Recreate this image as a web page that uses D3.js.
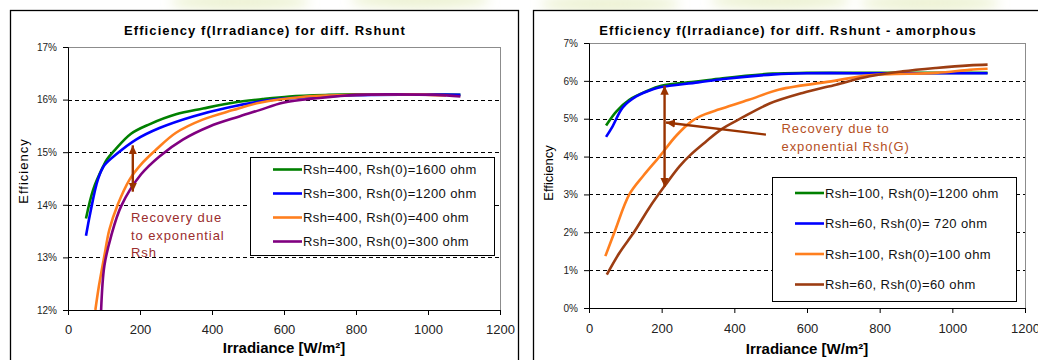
<!DOCTYPE html>
<html>
<head>
<meta charset="utf-8">
<script src="https://cdn.jsdelivr.net/npm/d3@7"></script>
<style>
  body { margin: 0; background: #fff; }
  svg { display: block; font-family: Arial, 'Liberation Sans', sans-serif; }
</style>
</head>
<body>
<svg id="chart" width="1038" height="360"></svg>
<script>
// ---- shared ticks ----
const irrTicks = [0, 200, 400, 600, 800, 1000, 1200];
const leftPctTicks = [12, 13, 14, 15, 16, 17];
const rightPctTicks = [0, 1, 2, 3, 4, 5, 6, 7];

// ---- left panel: crystalline module, efficiency [%] vs irradiance [W/m2] ----
const leftNames = ['Rsh=400, Rsh(0)=1600 ohm', 'Rsh=300, Rsh(0)=1200 ohm', 'Rsh=400, Rsh(0)=400 ohm', 'Rsh=300, Rsh(0)=300 ohm'];

const leftGreenX = [50, 70, 97, 108, 130, 175, 226, 300, 375, 458, 540, 615, 725, 800, 900, 1000, 1090];
const leftGreenY = [13.74, 14.29, 14.72, 14.86, 15.04, 15.35, 15.53, 15.72, 15.83, 15.94, 16.01, 16.06, 16.09, 16.10, 16.10, 16.10, 16.09];

const leftBlueX = [50, 62, 83, 101, 134, 189, 254, 347, 439, 560, 700, 850, 1000, 1090];
const leftBlueY = [13.41, 13.85, 14.48, 14.75, 14.96, 15.24, 15.46, 15.68, 15.84, 15.99, 16.06, 16.09, 16.10, 16.09];

const leftOrangeX = [76, 86, 101, 115, 138, 171, 203, 245, 300, 374, 458, 532, 650, 800, 950, 1050];
const leftOrangeY = [12.0, 12.46, 13.03, 13.53, 14.0, 14.48, 14.77, 15.05, 15.37, 15.62, 15.80, 15.94, 16.05, 16.09, 16.10, 16.08];

const leftPurpleX = [92, 101, 120, 148, 203, 254, 319, 393, 476, 532, 597, 699, 800, 900, 1020, 1090];
const leftPurpleY = [12.0, 12.84, 13.41, 13.98, 14.58, 14.92, 15.24, 15.49, 15.68, 15.80, 15.94, 16.03, 16.09, 16.10, 16.09, 16.06];

// ---- right panel: amorphous module ----
const rightNames = ['Rsh=100, Rsh(0)=1200 ohm', 'Rsh=60, Rsh(0)= 720 ohm', 'Rsh=100, Rsh(0)=100 ohm', 'Rsh=60, Rsh(0)=60 ohm'];

const rightGreenX = [47, 75, 111, 157, 199, 295, 368, 506, 600, 800, 1000, 1097];
const rightGreenY = [4.82, 5.19, 5.50, 5.72, 5.87, 5.98, 6.07, 6.19, 6.21, 6.21, 6.21, 6.21];

const rightBlueX = [47, 65, 93, 130, 176, 199, 300, 370, 510, 600, 800, 1000, 1097];
const rightBlueY = [4.52, 4.80, 5.30, 5.59, 5.78, 5.84, 5.96, 6.05, 6.17, 6.20, 6.20, 6.20, 6.20];

const rightOrangeX = [45, 70, 111, 150, 194, 240, 285, 320, 359, 440, 524, 675, 772, 955, 1047, 1097];
const rightOrangeY = [1.37, 2.0, 3.0, 3.5, 4.0, 4.55, 4.95, 5.12, 5.25, 5.50, 5.77, 6.0, 6.15, 6.21, 6.29, 6.32];

const rightBrownX = [49, 84, 125, 166, 208, 249, 280, 320, 364, 420, 497, 588, 680, 772, 863, 955, 1047, 1097];
const rightBrownY = [0.88, 1.46, 2.02, 2.65, 3.22, 3.74, 4.05, 4.38, 4.72, 5.02, 5.40, 5.68, 5.90, 6.12, 6.25, 6.34, 6.41, 6.43];

const svg = d3.select('#chart');
const defs = svg.append('defs');

// faint watermark behind the charts
defs.append('filter').attr('id', 'blur').append('feGaussianBlur').attr('stdDeviation', 6);
svg.append('g')
  .attr('filter', 'url(#blur)')
  .selectAll('ellipse')
  .data([[240, 2], [420, 0], [610, 4], [780, 1], [930, 3]])
  .join('ellipse')
  .attr('cx', d => d[0])
  .attr('cy', d => d[1])
  .attr('rx', 70)
  .attr('ry', 9)
  .attr('fill', '#e6edc2')
  .attr('opacity', 0.7);

// arrow head
defs.append('marker')
  .attr('id', 'head')
  .attr('markerUnits', 'userSpaceOnUse')
  .attr('markerWidth', 10)
  .attr('markerHeight', 10)
  .attr('viewBox', '0 0 10 10')
  .attr('refX', 9)
  .attr('refY', 5)
  .attr('orient', 'auto-start-reverse')
  .append('path')
  .attr('d', 'M0,0.8 L9,5 L0,9.2 Z')
  .attr('fill', '#993300');

function zip(xs, ys) {
  return xs.map((v, i) => [v, ys[i]]);
}

function drawPanel(p) {
  const g = svg.append('g');

  // outer chart frame
  g.append('rect')
    .attr('x', p.frame[0] + 0.5)
    .attr('y', p.frame[1] + 0.5)
    .attr('width', p.frame[2])
    .attr('height', p.frame[3])
    .attr('fill', '#fff')
    .attr('stroke', '#000')
    .attr('stroke-width', 1.3);

  const x = d3.scaleLinear().domain([0, 1200]).range([p.left, p.right]);
  const y = d3.scaleLinear().domain([p.yTicks[0], p.yTicks[p.yTicks.length - 1]]).range([p.bottom, p.top]);

  // plot area border
  g.append('rect')
    .attr('x', p.left + 0.5)
    .attr('y', p.top + 0.5)
    .attr('width', p.right - p.left)
    .attr('height', p.bottom - p.top)
    .attr('fill', 'none')
    .attr('stroke', '#8c8c8c');

  // dashed grid
  g.selectAll('.grid')
    .data(p.yTicks.slice(1, -1))
    .join('line')
    .attr('x1', p.left)
    .attr('x2', p.right)
    .attr('y1', d => Math.round(y(d)) + 0.5)
    .attr('y2', d => Math.round(y(d)) + 0.5)
    .attr('stroke', '#000')
    .attr('stroke-dasharray', '4,3');

  // axes
  const xAxis = g.append('g')
    .attr('transform', `translate(0,${p.bottom})`)
    .call(d3.axisBottom(x).tickValues(irrTicks).tickSize(5).tickPadding(p.xPad).tickFormat(d3.format('d')));
  xAxis.selectAll('text').attr('font-size', 13).attr('fill', '#222');

  const yAxis = g.append('g')
    .attr('transform', `translate(${p.left},0)`)
    .call(d3.axisLeft(y).tickValues(p.yTicks).tickSize(5).tickPadding(6).tickFormat(d => d + '%'));
  yAxis.selectAll('text').attr('font-size', 10).attr('fill', '#222');
  g.selectAll('.domain, .tick line').attr('stroke', '#000');

  // titles
  g.append('text')
    .attr('x', p.titleX)
    .attr('y', 35)
    .attr('text-anchor', 'middle')
    .attr('font-size', 13)
    .attr('font-weight', 'bold')
    .attr('letter-spacing', 1.1)
    .text(p.title);

  g.append('text')
    .attr('x', (p.left + p.right) / 2)
    .attr('y', p.xTitleY)
    .attr('text-anchor', 'middle')
    .attr('font-size', 15)
    .attr('font-weight', 'bold')
    .text('Irradiance [W/m²]');

  g.append('text')
    .attr('transform', `translate(${p.yTitle[0]},${p.yTitle[1]}) rotate(-90)`)
    .attr('text-anchor', 'middle')
    .attr('font-size', 13)
    .attr('letter-spacing', p.yTitleSpacing)
    .text('Efficiency');

  // curves
  const clipId = 'clip' + p.id;
  defs.append('clipPath').attr('id', clipId)
    .append('rect')
    .attr('x', p.left)
    .attr('y', p.top - 5)
    .attr('width', p.right - p.left)
    .attr('height', p.bottom - p.top + 5);

  const line = d3.line()
    .x(d => x(d[0]))
    .y(d => y(d[1]))
    .curve(d3.curveCatmullRom.alpha(0.5));

  g.append('g')
    .attr('clip-path', `url(#${clipId})`)
    .selectAll('path')
    .data(p.series)
    .join('path')
    .attr('d', d => line(d.values))
    .attr('fill', 'none')
    .attr('stroke', d => d.color)
    .attr('stroke-width', 2.6)
    .attr('stroke-linejoin', 'round');

  // annotation arrows (in data units)
  p.arrows.forEach(a => {
    g.append('line')
      .attr('x1', x(a.from[0]))
      .attr('y1', y(a.from[1]))
      .attr('x2', x(a.to[0]))
      .attr('y2', y(a.to[1]))
      .attr('stroke', '#993300')
      .attr('stroke-width', 2.4)
      .attr('marker-end', 'url(#head)')
      .attr('marker-start', a.both ? 'url(#head)' : null);
  });

  g.append('text')
    .attr('font-size', 13)
    .attr('letter-spacing', 0.9)
    .attr('fill', p.noteColor)
    .selectAll('tspan')
    .data(p.note.lines)
    .join('tspan')
    .attr('x', x(p.note.at[0]))
    .attr('y', (d, i) => y(p.note.at[1]) + i * p.note.step)
    .text(d => d);

  // legend
  const lg = g.append('g').attr('transform', `translate(${p.legend[0]},${p.legend[1]})`);
  lg.append('rect')
    .attr('x', 0.5)
    .attr('y', 0.5)
    .attr('width', p.legend[2])
    .attr('height', p.legend[3])
    .attr('fill', '#fff')
    .attr('stroke', '#000');

  const items = lg.selectAll('.item')
    .data(p.series)
    .join('g')
    .attr('transform', (d, i) => `translate(0,${p.legendY0 + i * p.legendStep})`);
  items.append('line')
    .attr('x1', 23)
    .attr('x2', 52)
    .attr('stroke', d => d.color)
    .attr('stroke-width', 2.6);
  items.append('text')
    .attr('x', 53)
    .attr('y', 4.5)
    .attr('font-size', 13)
    .attr('letter-spacing', 0.4)
    .attr('fill', '#111')
    .text(d => d.name);
}

const leftColors = ['#008000', '#0000ff', '#ff7f1e', '#800080'];
const rightColors = ['#008000', '#0000ff', '#ff7f1e', '#9c3d12'];

drawPanel({
  id: 'L',
  frame: [10, 10, 508, 360],
  left: 68, right: 500, top: 47, bottom: 310,
  yTicks: leftPctTicks,
  xPad: 10,
  title: 'Efficiency f(Irradiance) for diff. Rshunt',
  titleX: 265,
  xTitleY: 352.5,
  yTitle: [27.5, 171],
  yTitleSpacing: 1,
  series: [
    { name: leftNames[0], color: leftColors[0], values: zip(leftGreenX, leftGreenY) },
    { name: leftNames[1], color: leftColors[1], values: zip(leftBlueX, leftBlueY) },
    { name: leftNames[2], color: leftColors[2], values: zip(leftOrangeX, leftOrangeY) },
    { name: leftNames[3], color: leftColors[3], values: zip(leftPurpleX, leftPurpleY) }
  ],
  arrows: [{ from: [180, 15.13], to: [180, 14.25], both: true }],
  note: { lines: ['Recovery due', 'to exponential', 'Rsh'], at: [175, 13.67], step: 17.5 },
  noteColor: '#9b2d2d',
  legend: [250, 157, 244, 98],
  legendY0: 12.5,
  legendStep: 24
});

drawPanel({
  id: 'R',
  frame: [533, 10, 520, 360],
  left: 589, right: 1025, top: 43, bottom: 308,
  yTicks: rightPctTicks,
  xPad: 11,
  title: 'Efficiency f(Irradiance) for diff. Rshunt - amorphous',
  titleX: 788,
  xTitleY: 354,
  yTitle: [553, 173],
  yTitleSpacing: 0,
  series: [
    { name: rightNames[0], color: rightColors[0], values: zip(rightGreenX, rightGreenY) },
    { name: rightNames[1], color: rightColors[1], values: zip(rightBlueX, rightBlueY) },
    { name: rightNames[2], color: rightColors[2], values: zip(rightOrangeX, rightOrangeY) },
    { name: rightNames[3], color: rightColors[3], values: zip(rightBrownX, rightBrownY) }
  ],
  arrows: [
    { from: [208, 5.87], to: [208, 3.2], both: true },
    { from: [487, 4.58], to: [212, 4.9], both: false }
  ],
  note: { lines: ['Recovery due to', 'exponential Rsh(G)'], at: [530, 4.63], step: 18 },
  noteColor: '#b5501f',
  legend: [772, 177, 244, 124],
  legendY0: 16,
  legendStep: 30.5
});
</script>
</body>
</html>
